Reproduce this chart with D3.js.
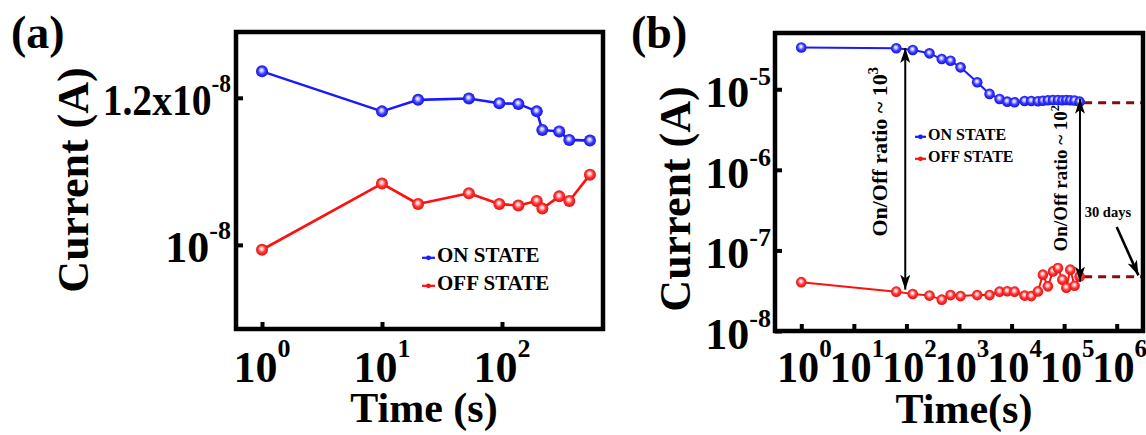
<!DOCTYPE html>
<html>
<head>
<meta charset="utf-8">
<script src="https://cdn.jsdelivr.net/npm/d3@7"></script>
<style>
  html, body { margin: 0; padding: 0; background: #fff; }
  svg { display: block; }
  text { font-family: "Liberation Serif", "Times New Roman", serif; font-weight: bold; fill: #000; }
</style>
</head>
<body>
<svg id="chart" width="1146" height="435"></svg>
<script>
// ---------- Panel (a): current vs. time, short read window ----------
const timeA = [1, 10, 20, 53, 95, 137, 195, 217, 300, 364, 541];
const onA  = [1.240e-8, 1.180e-8, 1.197e-8, 1.199e-8, 1.192e-8, 1.191e-8, 1.180e-8, 1.153e-8, 1.151e-8, 1.139e-8, 1.138e-8];
const offA = [0.994e-8, 1.079e-8, 1.052e-8, 1.066e-8, 1.052e-8, 1.050e-8, 1.056e-8, 1.046e-8, 1.062e-8, 1.056e-8, 1.091e-8];
const ticksXA = [1, 10, 100];
const ticksYA = [1e-8, 1.2e-8];
const ticksYALabels = [["10", "-8"], ["1.2x10", "-8"]];

// ---------- Panel (b): retention over ~2 days, extrapolated to 30 days ----------
const timeB = [1, 64, 132, 274, 470, 690, 1070, 2220, 3810, 5910, 8280, 11400, 17700, 23700,
               31700, 39400, 49100, 61200, 76200, 92500, 110000, 131000, 158000, 197000];
const onB  = [3.30e-5, 3.22e-5, 3.07e-5, 2.79e-5, 2.37e-5, 2.26e-5, 1.87e-5, 1.22e-5, 8.75e-6, 7.58e-6,
              7.02e-6, 6.90e-6, 7.16e-6, 7.16e-6, 7.10e-6, 7.20e-6, 7.30e-6, 7.35e-6, 7.37e-6, 7.30e-6,
              7.37e-6, 7.30e-6, 7.25e-6, 7.02e-6];
const offB = [4.04e-8, 3.08e-8, 2.88e-8, 2.75e-8, 2.45e-8, 2.79e-8, 2.71e-8, 2.79e-8, 2.79e-8, 3.08e-8,
              3.12e-8, 3.08e-8, 2.75e-8, 2.71e-8, 3.10e-8, 5.00e-8, 3.58e-8, 5.49e-8, 6.05e-8, 4.34e-8,
              3.45e-8, 5.77e-8, 3.65e-8, 4.76e-8];
const ticksXB = [1, 10, 100, 1e3, 1e4, 1e5, 1e6];
const ticksYB = [1e-8, 1e-7, 1e-6, 1e-5];
const ratioArrows = [
  { t: 95,    hi: 3.25e-5, lo: 3.26e-8, text: "On/Off ratio ~ 10", sup: "3" },
  { t: 2.0e5, hi: 7.6e-6,  lo: 4.1e-8,  text: "On/Off ratio ~ 10", sup: "2" }
];
const extrapStart = 2.4e5;          // s, where the dashed projection begins
const extrapOn = 6.82e-6, extrapOff = 4.72e-8;
const thirtyDays = 30 * 24 * 3600;  // s
const daysNoteFrom = { t: 1.0e6, i: 1.95e-7 };
const daysNoteTo   = { t: thirtyDays, i: 4.9e-8 };
const daysLabel = { t: 6.8e5, i: 2.6e-7, text: "30 days" };

const legendItems = [{ name: "ON STATE", color: "#1a1aff" }, { name: "OFF STATE", color: "#ff1010" }];

// ---------- drawing ----------
const svg = d3.select("#chart");
const defs = svg.append("defs");

function sphereGradient(id, c1, c2, c3) {
  const g = defs.append("radialGradient").attr("id", id)
    .attr("cx", "50%").attr("cy", "50%").attr("r", "55%").attr("fx", "45%").attr("fy", "38%");
  g.append("stop").attr("offset", "0%").attr("stop-color", "#ffffff");
  g.append("stop").attr("offset", "22%").attr("stop-color", c1);
  g.append("stop").attr("offset", "55%").attr("stop-color", c2);
  g.append("stop").attr("offset", "100%").attr("stop-color", c3);
}
sphereGradient("ballBlue", "#c8c8ff", "#3a3aff", "#0a0ae0");
sphereGradient("ballRed", "#ffc8c8", "#ff3434", "#e00a0a");

function arrowMarker(id, len, wid) {
  defs.append("marker").attr("id", id)
    .attr("viewBox", `0 0 ${len} ${wid}`)
    .attr("refX", len).attr("refY", wid / 2)
    .attr("markerWidth", len).attr("markerHeight", wid)
    .attr("markerUnits", "userSpaceOnUse")
    .attr("orient", "auto-start-reverse")
    .append("path").attr("d", `M0,0 L${len},${wid / 2} L0,${wid} L${len * 0.25},${wid / 2} Z`).attr("fill", "#000");
}
arrowMarker("head", 15, 10);

const tickFont = 44, supFont = 26;

// base text with a raised exponent; sx squeezes the label horizontally
function supText(g, x, y, base, sup, anchor, size, sSize, rise, sx = 1) {
  const t = g.append("text").attr("transform", `translate(${x},${y}) scale(${sx},1)`)
    .attr("text-anchor", anchor).attr("font-size", size);
  t.append("tspan").text(base);
  t.append("tspan").attr("font-size", sSize).attr("dy", -rise).text(sup);
  return t;
}

function frame(g, x, y) {
  g.append("rect")
    .attr("x", x.range()[0]).attr("y", y.range()[1])
    .attr("width", x.range()[1] - x.range()[0]).attr("height", y.range()[0] - y.range()[1])
    .attr("fill", "none").attr("stroke", "#000").attr("stroke-width", 4.5);
}

function tickAxes(g, x, y, tx, ty) {
  const ax = g.append("g").attr("transform", `translate(0,${y.range()[0]})`)
    .call(d3.axisBottom(x).tickValues(tx).tickSize(-7).tickFormat(""));
  const ay = g.append("g").attr("transform", `translate(${x.range()[0]},0)`)
    .call(d3.axisLeft(y).tickValues(ty).tickSize(-7).tickFormat(""));
  [ax, ay].forEach(a => {
    a.select(".domain").remove();
    a.selectAll(".tick line").attr("stroke", "#000").attr("stroke-width", 4);
  });
}

function series(g, x, y, times, vals, color, grad, lw, r) {
  const pts = times.map((t, i) => [t, vals[i]]);
  g.append("path").datum(pts)
    .attr("d", d3.line().x(d => x(d[0])).y(d => y(d[1])))
    .attr("fill", "none").attr("stroke", color).attr("stroke-width", lw).attr("stroke-linejoin", "round");
  g.selectAll(null).data(pts).join("circle")
    .attr("cx", d => x(d[0])).attr("cy", d => y(d[1])).attr("r", r)
    .attr("fill", `url(#${grad})`);
}

function legend(g, x0, y0, dy, size, symW) {
  legendItems.forEach((it, i) => {
    const yy = y0 + i * dy;
    g.append("line").attr("x1", x0 - symW - 2).attr("x2", x0 - 2)
      .attr("y1", yy - size * 0.2).attr("y2", yy - size * 0.2)
      .attr("stroke", it.color).attr("stroke-width", 2.2);
    g.append("circle").attr("cx", x0 - symW / 2 - 2).attr("cy", yy - size * 0.2).attr("r", 2.4)
      .attr("fill", it.color);
    g.append("text").attr("x", x0).attr("y", yy).attr("font-size", size).text(it.name);
  });
}

// ----- panel (a) -----
const xA = d3.scaleLog().domain([Math.pow(10, -0.2167), Math.pow(10, 2.842)]).range([236, 603]);
const yA = d3.scaleLog().domain([9.01e-9, 1.302e-8]).range([329, 32]);
const gA = svg.append("g");

series(gA, xA, yA, timeA, onA, "#1a1aff", "ballBlue", 2.6, 6);
series(gA, xA, yA, timeA, offA, "#ff1010", "ballRed", 2.6, 6);
tickAxes(gA, xA, yA, ticksXA, ticksYA);
frame(gA, xA, yA);

ticksXA.forEach(v => supText(gA, xA(v), 382, "10", String(Math.round(Math.log10(v))), "middle", tickFont, supFont, 25));
ticksYA.forEach((v, i) => supText(gA, 231, yA(v) + 17, ticksYALabels[i][0], ticksYALabels[i][1], "end",
  tickFont, supFont, 23, i === 1 ? 0.9 : 1));

gA.append("text").attr("x", 424).attr("y", 422).attr("text-anchor", "middle").attr("font-size", 42).text("Time (s)");
gA.append("text").attr("transform", "translate(88,180) rotate(-90)").attr("text-anchor", "middle")
  .attr("font-size", 44).text("Current (A)");
gA.append("text").attr("x", 11).attr("y", 48).attr("font-size", 46).text("(a)");
legend(gA, 437, 262, 28, 21, 13);

// ----- panel (b) -----
const xB = d3.scaleLog().domain([Math.pow(10, -0.5), Math.pow(10, 6.5)]).range([775, 1143]);
const yB = d3.scaleLog().domain([1e-8, Math.pow(10, -4.302)]).range([331, 33]);
const gB = svg.append("g");

// dashed projection of both states out to 30 days
[extrapOn, extrapOff].forEach(v => {
  gB.append("line").attr("x1", xB(extrapStart)).attr("x2", xB.range()[1])
    .attr("y1", yB(v)).attr("y2", yB(v))
    .attr("stroke", "#8b0a0a").attr("stroke-width", 3).attr("stroke-dasharray", "8,6");
});

series(gB, xB, yB, timeB, onB, "#1a1aff", "ballBlue", 2, 5.3);
series(gB, xB, yB, timeB, offB, "#ff1010", "ballRed", 2, 5.3);

// on/off ratio arrows with rotated captions
ratioArrows.forEach((a, i) => {
  const ax = xB(a.t);
  gB.append("line").attr("x1", ax).attr("x2", ax).attr("y1", yB(a.hi)).attr("y2", yB(a.lo))
    .attr("stroke", "#000").attr("stroke-width", 2)
    .attr("marker-start", "url(#head)").attr("marker-end", "url(#head)");
  const mid = (yB(a.hi) + yB(a.lo)) / 2;
  const size = i === 0 ? 22 : 19;
  const cx = ax - (i === 0 ? 18 : 13);
  const cy = mid - (i === 0 ? 17 : 12);
  const t = gB.append("text").attr("transform", `translate(${cx},${cy}) rotate(-90)`)
    .attr("text-anchor", "middle").attr("font-size", size);
  t.append("tspan").text(a.text);
  t.append("tspan").attr("font-size", size * 0.65).attr("dy", -size * 0.42).text(a.sup);
});

// 30-day annotation
gB.append("line")
  .attr("x1", xB(daysNoteFrom.t)).attr("y1", yB(daysNoteFrom.i))
  .attr("x2", xB(daysNoteTo.t)).attr("y2", yB(daysNoteTo.i))
  .attr("stroke", "#000").attr("stroke-width", 2.6).attr("marker-end", "url(#head)");
gB.append("text").attr("x", xB(daysLabel.t)).attr("y", yB(daysLabel.i))
  .attr("text-anchor", "middle").attr("font-size", 14.5).text(daysLabel.text);

tickAxes(gB, xB, yB, ticksXB, ticksYB);
frame(gB, xB, yB);

ticksXB.forEach(v => supText(gB, xB(v) + 3, 382, "10", String(Math.round(Math.log10(v))), "middle", tickFont, supFont, 25, 0.96));
ticksYB.forEach(v => supText(gB, 771, yB(v) + 18, "10", String(Math.round(Math.log10(v))), "end", tickFont, supFont, 22));

gB.append("text").attr("x", 964).attr("y", 423).attr("text-anchor", "middle").attr("font-size", 42).text("Time(s)");
gB.append("text").attr("transform", "translate(690,199) rotate(-90)").attr("text-anchor", "middle")
  .attr("font-size", 44).text("Current (A)");
gB.append("text").attr("x", 631).attr("y", 48).attr("font-size", 46).text("(b)");
legend(gB, 928, 140, 22, 16, 11);
</script>
</body>
</html>
